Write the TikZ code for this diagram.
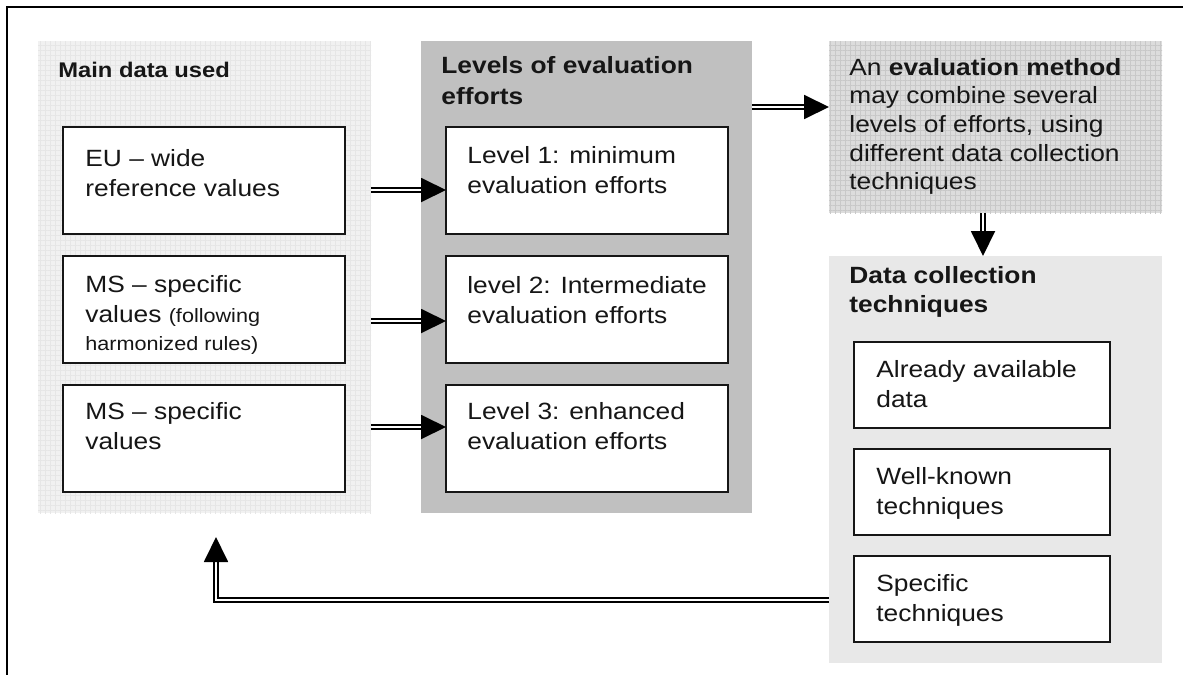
\documentclass[tikz,border=0pt]{standalone}
\usepackage{fontspec}
\setmainfont{Liberation Sans}[FakeStretch=1.12]
\usetikzlibrary{arrows.meta,patterns.meta}

\definecolor{ink}{HTML}{161616}
\definecolor{paleA}{HTML}{F1F1F1}
\definecolor{gridA}{HTML}{E6E6E6}
\definecolor{midgray}{HTML}{C0C0C0}
\definecolor{paleB}{HTML}{DCDCDC}
\definecolor{gridB}{HTML}{C8C8C8}
\definecolor{paleC}{HTML}{E8E8E8}

% rows of text whose baseline is the first row's baseline
\newcommand\txtrows[1]{\begin{tabular}[t]{@{}l@{}}#1\end{tabular}}

\begin{document}
\begin{tikzpicture}[x=0.5pt,y=-0.5pt,
  panel/.style={draw=none, anchor=north west, inner sep=0pt, outer sep=0pt},
  itembox/.style={draw=ink, line width=1pt, fill=white, anchor=north west,
    inner sep=0pt, outer sep=0pt, minimum height=53.5pt},
  body/.style={anchor=base west, inner sep=0pt, text=ink,
    font=\fontsize{11.75}{15}\selectfont},
  head/.style={body, font=\bfseries\fontsize{11.75}{15.5}\selectfont},
  texture/.style={pattern={Hatch[distance=2.5pt, line width=0.3pt]}},
  dbl/.style={draw=black, line width=0.95pt, double=white, double distance=0.75pt,
    -{Triangle[length=12.5pt,width=12pt]}}
]
\useasboundingbox (0,0) rectangle (1183,675);

% frame
\draw[line width=1pt] (1183,7) -- (7,7) -- (7,675);

% panels
\node[panel, fill=paleA, minimum width=166.5pt, minimum height=236pt] (lp) at (38,41) {};
\fill[texture, pattern color=gridA] (lp.north west) rectangle (lp.south east);
\node[panel, fill=midgray, minimum width=165.5pt, minimum height=236pt] (mp) at (421,41) {};
\node[panel, fill=paleB, minimum width=166.5pt, minimum height=86pt] (rt) at (829,41) {};
\fill[texture, pattern color=gridB] (rt.north west) rectangle (rt.south east);
\node[panel, fill=paleC, minimum width=166.5pt, minimum height=203.5pt] (rb) at (829,256) {};

% panel titles
\node[head, font=\bfseries\fontsize{10.6}{13}\selectfont] (lpt) at (58,77) {Main data used};
\node[head] (mpt) at (441,73) {\txtrows{Levels of evaluation\\efforts}};
\node[head, font=\bfseries\fontsize{11.75}{14.5}\selectfont] (rbt) at (849,283)
  {\txtrows{Data collection\\techniques}};
\node[body, font=\fontsize{11.75}{14.35}\selectfont] (rtt) at (849,75)
  {\txtrows{An \textbf{evaluation method}\\may combine several\\levels of efforts, using\\different data collection\\techniques}};

% data boxes
\node[itembox, minimum width=141pt] (lb1) at (63,127) {};
\node[itembox, minimum width=141pt] (lb2) at (63,256) {};
\node[itembox, minimum width=141pt] (lb3) at (63,385) {};
\node[body] (lt1) at (85,166) {\txtrows{EU -- wide\\reference values}};
\node[body] (lt2) at (85,292.7) {\txtrows{MS -- specific\\values {\fontsize{9.65}{12}\selectfont(following}\\[-1.35pt]{\fontsize{9.65}{12}\selectfont harmonized rules)}}};
\node[body] (lt3) at (85,419) {\txtrows{MS -- specific\\values}};

% level boxes
\node[itembox, minimum width=141pt] (mb1) at (446,127) {};
\node[itembox, minimum width=141pt] (mb2) at (446,256) {};
\node[itembox, minimum width=141pt] (mb3) at (446,385) {};
\node[body] (mt1) at (467,163) {\txtrows{Level 1: minimum\\evaluation efforts}};
\node[body] (mt2) at (467,293) {\txtrows{level 2: Intermediate\\evaluation efforts}};
\node[body] (mt3) at (467,419) {\txtrows{Level 3: enhanced\\evaluation efforts}};

% technique boxes
\node[itembox, minimum width=128pt, minimum height=43pt] (rb1) at (854,342) {};
\node[itembox, minimum width=128pt, minimum height=43pt] (rb2) at (854,449) {};
\node[itembox, minimum width=128pt, minimum height=43pt] (rb3) at (854,556) {};
\node[body] (rtx1) at (876,377) {\txtrows{Already available\\data}};
\node[body] (rtx2) at (876,484) {\txtrows{Well-known\\techniques}};
\node[body] (rtx3) at (876,591) {\txtrows{Specific\\techniques}};

% connectors
\draw[dbl] ([yshift=-4.75pt]mb1.west -| lp.east) -- ([yshift=-4.75pt]mb1.west);
\draw[dbl] ([yshift=-5.75pt]mb2.west -| lp.east) -- ([yshift=-5.75pt]mb2.west);
\draw[dbl] ([yshift=5.75pt]mb3.west -| lp.east) -- ([yshift=5.75pt]mb3.west);
\draw[dbl] ([yshift=85pt]mp.east) -- ([yshift=85pt]mp.east -| rt.west);
\draw[dbl] ([xshift=-6.25pt]rt.south) -- ([xshift=-6.25pt]rt.south |- rb.north);
\coordinate (ret) at (216,537);
\draw[dbl] ([yshift=-70.25pt]rb.west) -| (ret);
\end{tikzpicture}
\end{document}
